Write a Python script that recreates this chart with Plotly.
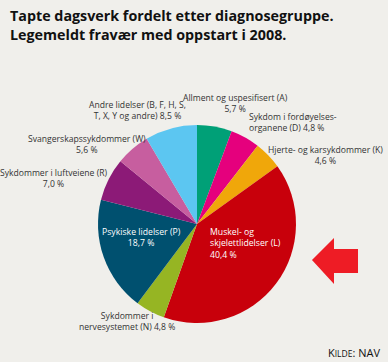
import plotly.graph_objects as go

W, H = 388, 362

categories = [
    "Allment og uspesifisert (A)",
    "Sykdom i fordøyelsesorganene (D)",
    "Hjerte- og karsykdommer (K)",
    "Muskel- og skjelettlidelser (L)",
    "Sykdommer i nervesystemet (N)",
    "Psykiske lidelser (P)",
    "Sykdommer i luftveiene (R)",
    "Svangerskapssykdommer (W)",
    "Andre lidelser (B, F, H, S, T, X, Y og andre)",
]
values = [5.7, 4.8, 4.6, 40.4, 4.8, 18.7, 7.0, 5.6, 8.5]
colors = ["#00A077", "#E5007D", "#F0A70A", "#C8000B", "#96B523",
          "#00506F", "#8C1A77", "#C75E9F", "#5CC6F1"]
title_lines = ["Tapte dagsverk fordelt etter diagnosegruppe.",
               "Legemeldt fravær med oppstart i 2008."]

def fx(x):
    return x / W

def fy(y):
    return 1 - y / H

cx, cy, r = 197, 224, 99

fig = go.Figure(go.Pie(
    labels=categories,
    values=values,
    sort=False,
    direction="clockwise",
    rotation=0,
    marker=dict(colors=colors, line=dict(width=0)),
    textinfo="none",
    hoverinfo="label+value",
    showlegend=False,
    domain=dict(x=[fx(cx - r), fx(cx + r)], y=[fy(cy + r), fy(cy - r)]),
))

FONT = "Open Sans"
lab = dict(family=FONT, size=8.6, color="#333333")
white = dict(family=FONT, size=8.7, color="#ffffff")

annotations = [
    dict(x=fx(8), y=fy(4), text="<b>" + "<br>".join(title_lines) + "</b>",
         font=dict(family=FONT, size=14.3, color="#111111"), xanchor="left", yanchor="top", align="left"),
    # outside labels
    dict(x=fx(236), y=fy(104), text="Allment og uspesifisert (A)<br>5,7 %", font=lab, align="center"),
    dict(x=fx(247), y=fy(122), text="Sykdom i fordøyelses-<br>organene (D) 4,8 %", font=lab, align="left", xanchor="left"),
    dict(x=fx(325), y=fy(155), text="Hjerte- og karsykdommer (K)<br>4,6 %", font=lab, align="center"),
    dict(x=fx(137), y=fy(111), text="Andre lidelser (B, F, H, S,<br>T, X, Y og andre) 8,5 %", font=lab, align="center"),
    dict(x=fx(87), y=fy(144), text="Svangerskapssykdommer (W)<br>5,6 %", font=lab, align="center"),
    dict(x=fx(54), y=fy(178), text="Sykdommer i luftveiene (R)<br>7,0 %", font=lab, align="center"),
    dict(x=fx(127), y=fy(321), text="Sykdommer i<br>nervesystemet (N) 4,8 %", font=lab, align="center"),
    # inside labels
    dict(x=fx(208), y=fy(243), text="Muskel- og<br>skjelettlidelser (L)<br>40,4 %", font=white, align="left", xanchor="left"),
    dict(x=fx(141), y=fy(237), text="Psykiske lidelser (P)<br>18,7 %", font=white, align="center"),
    # source
    dict(x=fx(382), y=fy(352), text="K<span style='font-size:8.5px'>ILDE</span>: NAV",
         font=dict(family=FONT, size=11, color="#111111"), xanchor="right", align="right"),
]
for a in annotations:
    a.setdefault("xanchor", "center")
    a.setdefault("yanchor", "middle")
    a.update(xref="paper", yref="paper", showarrow=False)

arrow_pts = [(312, 260), (334, 238), (334, 249), (358, 249), (358, 273), (334, 273), (334, 284)]
path = "M " + " L ".join(f"{fx(x):.4f},{fy(y):.4f}" for x, y in arrow_pts) + " Z"

fig.update_layout(
    width=W, height=H,
    margin=dict(l=0, r=0, t=0, b=0),
    paper_bgcolor="#F0EFEB",
    plot_bgcolor="#F0EFEB",
    annotations=annotations,
    shapes=[dict(type="path", path=path, xref="paper", yref="paper",
                 fillcolor="#EE1C25", line=dict(width=0))],
)

fig.write_html("out.html", config={"displayModeBar": False},
               post_script="document.body.style.margin='0';document.body.style.overflow='hidden';")
